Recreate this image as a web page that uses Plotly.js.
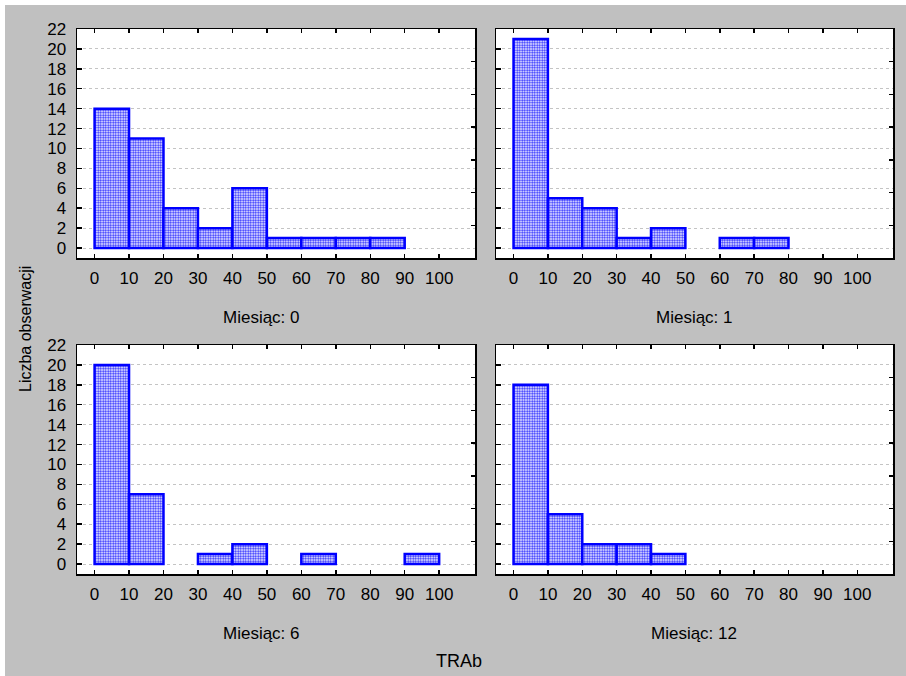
<!DOCTYPE html>
<html><head><meta charset="utf-8">
<script src="https://cdn.plot.ly/plotly-3.0.1.min.js"></script>
<style>html,body{margin:0;padding:0;background:#fff;} #chart{width:906px;height:676px;}</style>
</head><body><div id="chart"></div>
<script>
// ---- data ----
const binCenters = [5, 15, 25, 35, 45, 55, 65, 75, 85, 95];
const binWidth = 10;
const month0  = [14, 11, 4, 2, 6, 1, 1, 1, 1, 0];
const month1  = [21, 5, 4, 1, 2, 0, 1, 1, 0, 0];
const month6  = [20, 7, 0, 1, 2, 0, 1, 0, 0, 1];
const month12 = [18, 5, 2, 2, 1, 0, 0, 0, 0, 0];
const panelTitles = ['Miesiąc: 0', 'Miesiąc: 1', 'Miesiąc: 6', 'Miesiąc: 12'];
const xTickVals = [0, 10, 20, 30, 40, 50, 60, 70, 80, 90, 100];
const yTickVals = [0, 2, 4, 6, 8, 10, 12, 14, 16, 18, 20, 22];
const xTitle = 'TRAb';
const yTitle = 'Liczba obserwacji';

// ---- layout helpers ----
const W = 906, H = 676;
const px = v => v / W;
const py = v => 1 - v / H;
const FONT = 'Liberation Sans, Arial, sans-serif';
const FS = 17;
const panels = [
  {counts: month0,  x0: 77,  x1: 475, y0: 29,  y1: 258, tx: 261, ty: 317, left: true},
  {counts: month1,  x0: 496, x1: 893, y0: 29,  y1: 258, tx: 694, ty: 317, left: false},
  {counts: month6,  x0: 77,  x1: 475, y0: 345, y1: 574, tx: 261, ty: 633, left: true},
  {counts: month12, x0: 496, x1: 893, y0: 345, y1: 574, tx: 694, ty: 633, left: false}
];

const traces = [];
const layout = {
  width: W, height: H,
  margin: {l: 0, r: 0, t: 0, b: 0},
  paper_bgcolor: '#c0c0c0',
  plot_bgcolor: '#ffffff',
  showlegend: false,
  bargap: 0,
  font: {family: FONT, size: FS, color: '#000'},
  shapes: [
    {type: 'rect', xref: 'paper', yref: 'paper', x0: 0, x1: 1, y0: py(5), y1: 1, fillcolor: '#fff', line: {width: 0}, layer: 'below'},
    {type: 'rect', xref: 'paper', yref: 'paper', x0: 0, x1: px(5), y0: 0, y1: 1, fillcolor: '#fff', line: {width: 0}, layer: 'below'}
  ],
  annotations: []
};

panels.forEach((p, i) => {
  const n = i + 1;
  const xa = 'x' + (n === 1 ? '' : n), ya = 'y' + (n === 1 ? '' : n);
  traces.push({
    type: 'bar', x: binCenters, y: p.counts.map(c => c === 0 ? null : c), width: binWidth,
    xaxis: xa, yaxis: ya,
    marker: {
      color: '#ffffff',
      line: {color: '#0000ff', width: 2.5},
      pattern: {shape: '.', fgcolor: '#2a2aff', bgcolor: '#ffffff', size: 2.5, solidity: 0.5}
    },
    hoverinfo: 'skip'
  });
  layout['xaxis' + (n === 1 ? '' : n)] = {
    domain: [px(p.x0), px(p.x1)], anchor: ya,
    range: [-5.1, 110.4], tickvals: xTickVals, ticktext: xTickVals.map(String),
    ticks: 'inside', ticklen: 4, tickwidth: 1.5, tickcolor: '#000',
    showline: true, linecolor: '#000', linewidth: 1.5, mirror: 'ticks',
    showgrid: false, zeroline: false, fixedrange: true,
    tickfont: {family: FONT, size: FS, color: '#000'}, ticklabelstandoff: 4
  };
  layout['yaxis' + (n === 1 ? '' : n)] = {
    domain: [py(p.y1), py(p.y0)], anchor: xa,
    range: [-1, 22], tickvals: yTickVals, ticktext: yTickVals.map(String),
    ticks: 'inside', ticklen: 5, tickwidth: 1.5, tickcolor: '#000',
    showticklabels: p.left,
    showline: true, linecolor: '#000', linewidth: 1.5, mirror: true,
    showgrid: true, gridcolor: '#c4c4c4', griddash: 'dot', gridwidth: 1,
    zeroline: false, fixedrange: true,
    tickfont: {family: FONT, size: FS, color: '#000'}, ticklabelstandoff: 6
  };
  // right-hand secondary axis (unlabelled ticks)
  layout['yaxis' + (n + 4)] = {
    overlaying: ya, anchor: xa, side: 'right',
    range: [0, 70], dtick: 10, ticks: 'inside', ticklen: 4, tickwidth: 1.5, tickcolor: '#000',
    showticklabels: false, showgrid: false, showline: false, zeroline: false, fixedrange: true
  };
  traces.push({type: 'scatter', x: [null], y: [null], xaxis: xa, yaxis: 'y' + (n + 4), hoverinfo: 'skip', showlegend: false});
  layout.annotations.push({
    text: panelTitles[i], xref: 'paper', yref: 'paper', x: px(p.tx), y: py(p.ty),
    xanchor: 'center', yanchor: 'middle', showarrow: false,
    font: {family: FONT, size: FS, color: '#000'}
  });
});

layout.annotations.push({
  text: xTitle, xref: 'paper', yref: 'paper', x: px(459), y: py(661),
  xanchor: 'center', yanchor: 'middle', showarrow: false,
  font: {family: FONT, size: 18, color: '#000'}
});
layout.annotations.push({
  text: yTitle, xref: 'paper', yref: 'paper', x: px(25), y: py(329),
  xanchor: 'center', yanchor: 'middle', showarrow: false, textangle: -90,
  font: {family: FONT, size: 16, color: '#000'}
});

Plotly.newPlot('chart', traces, layout, {staticPlot: true, displayModeBar: false});
</script>
</body></html>
